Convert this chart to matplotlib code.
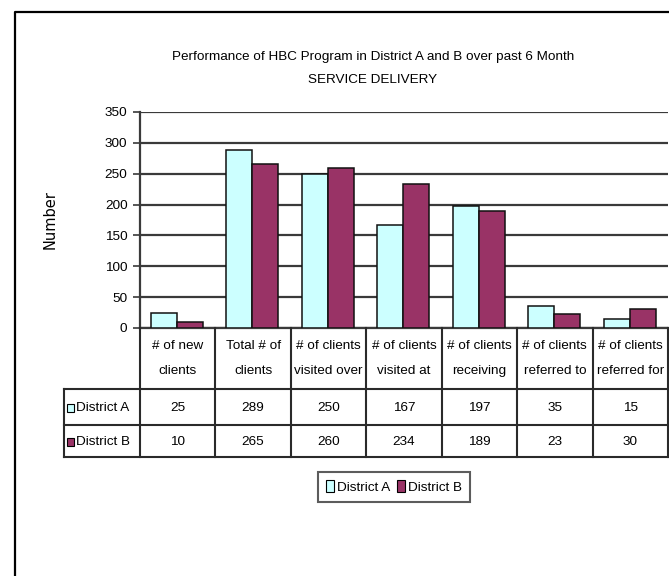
import matplotlib
matplotlib.use("Agg")
import matplotlib.pyplot as plt
from matplotlib.patches import Patch, Rectangle
from matplotlib.lines import Line2D

categories = ["# of new\nclients", "Total # of\nclients", "# of clients\nvisited over",
              "# of clients\nvisited at", "# of clients\nreceiving", "# of clients\nreferred to",
              "# of clients\nreferred for"]
series_names = ["District A", "District B"]
district_a = [25, 289, 250, 167, 197, 35, 15]
district_b = [10, 265, 260, 234, 189, 23, 30]
yticks = [0, 50, 100, 150, 200, 250, 300, 350]
title = "Performance of HBC Program in District A and B over past 6 Month\nSERVICE DELIVERY"

color_a = "#CCFFFF"
color_b = "#993366"
FONT = ["Liberation Sans Narrow", "Liberation Sans", "DejaVu Sans"]
plt.rcParams['font.family'] = FONT
FS = 9.7

W, H = 669, 576
fig = plt.figure(figsize=(W / 100, H / 100), dpi=100)

def fx(px):
    return px / W

def fy(py):
    return 1 - py / H

ax_l, ax_r, ax_t, ax_b = 140, 668, 112, 328
ax = fig.add_axes([fx(ax_l), fy(ax_b), fx(ax_r - ax_l), (ax_b - ax_t) / H])
n = len(categories)
xs = list(range(n))
bw = 0.345
ax.bar([x - bw / 2 - 0.01 for x in xs], district_a, bw, color=color_a, edgecolor="#111111", lw=1.1, zorder=3)
ax.bar([x + bw / 2 - 0.01 for x in xs], district_b, bw, color=color_b, edgecolor="#111111", lw=1.1, zorder=3)
ax.set_xlim(-0.5, n - 0.5)
ax.set_ylim(0, 350)
ax.set_yticks(yticks)
ax.set_yticklabels([str(t) for t in yticks], fontsize=FS)
ax.set_xticks([])
ax.yaxis.grid(True, color="#3a3a3a", lw=1.6)
ax.set_axisbelow(True)
for s in ["top", "right"]:
    ax.spines[s].set_visible(False)
ax.spines["left"].set_color("#3a3a3a")
ax.spines["left"].set_linewidth(1.6)
ax.spines["bottom"].set_color("#3a3a3a")
ax.spines["bottom"].set_linewidth(1.6)
ax.tick_params(axis="y", length=5, width=1.2, color="#3a3a3a", pad=4)

# table beneath, sharing the category scale
unit = (ax_r - ax_l) / n
tl = 64
tb_top, row1, row2, tb_bot = ax_b, 389, 425, 457
tax = fig.add_axes([fx(tl), fy(tb_bot), fx(ax_r - tl), (tb_bot - tb_top) / H])
x_left = -0.5 - (ax_l - tl) / unit
tax.set_xlim(x_left, n - 0.5)
tax.set_ylim(tb_bot, tb_top)
tax.axis("off")
lc = "#2a2a2a"
for k in range(n + 1):
    tax.plot([k - 0.5, k - 0.5], [tb_top, tb_bot], color=lc, lw=1.5, clip_on=False)
tax.plot([x_left, x_left], [row1, tb_bot], color=lc, lw=1.5, clip_on=False)
for yy in [row1, row2, tb_bot]:
    tax.plot([x_left, n - 0.5], [yy, yy], color=lc, lw=1.5, clip_on=False)
for i, c in enumerate(categories):
    tax.text(i, 358.5, c, ha="center", va="center", fontsize=FS, linespacing=2.35)
    tax.text(i, (row1 + row2) / 2 + 1, str(district_a[i]), ha="center", va="center", fontsize=FS)
    tax.text(i, (row2 + tb_bot) / 2 + 1, str(district_b[i]), ha="center", va="center", fontsize=FS)
for yy, name, col in [((row1 + row2) / 2, series_names[0], color_a), ((row2 + tb_bot) / 2, series_names[1], color_b)]:
    sq = 7 / unit
    tax.add_patch(Rectangle((x_left + 3 / unit, yy - 3), sq, 8, facecolor=col, edgecolor="black", lw=0.8, clip_on=False))
    tax.text(x_left + 11.5 / unit, yy + 1, name, ha="left", va="center", fontsize=FS)

# legend
handles = [Patch(facecolor=color_a, edgecolor="black", lw=0.8),
           Patch(facecolor=color_b, edgecolor="black", lw=0.8)]
leg = fig.legend(handles, series_names, loc="center", bbox_to_anchor=(fx(394), fy(487)), ncol=2,
                 fontsize=FS, frameon=True, fancybox=False, edgecolor="#333333",
                 handlelength=0.6, handleheight=0.9, handletextpad=0.2, columnspacing=0.5,
                 borderpad=0.6, borderaxespad=0)
leg.get_frame().set_linewidth(1.5)

# title and axis label
fig.text(fx(373), fy(68.5), title, ha="center", va="center", fontsize=FS, linespacing=2.3)
fig.text(fx(50), fy(220), "Number", rotation=90, ha="center", va="center", fontsize=10.5,
         family="DejaVu Sans")

# outer frame
fig.add_artist(Line2D([fx(14.5), fx(14.5), fx(669)], [0, fy(11.5), fy(11.5)],
                      color="black", lw=1.6, transform=fig.transFigure))

fig.savefig("out.png", dpi=100)
